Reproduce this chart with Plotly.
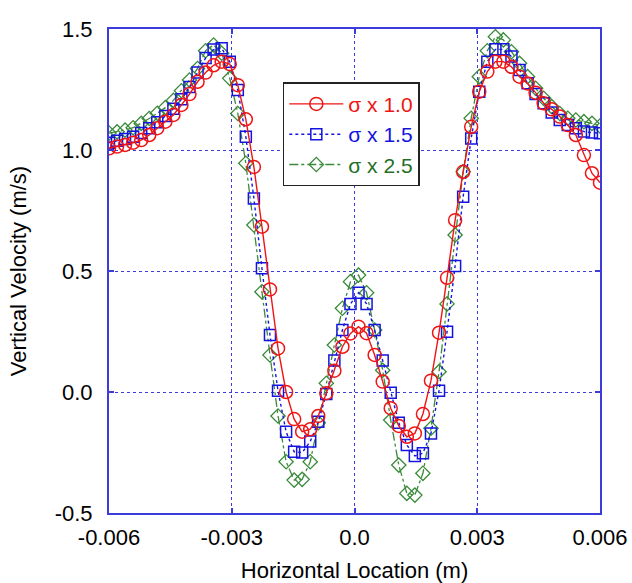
import plotly.graph_objects as go

# Horizontal location (m): 62 sample positions across the channel (-0.006 .. 0.006)
x_loc = [-0.006000, -0.005803, -0.005607, -0.005410, -0.005213, -0.005016, -0.004820, -0.004623,
         -0.004426, -0.004230, -0.004033, -0.003836, -0.003639, -0.003443, -0.003246, -0.003049,
         -0.002852, -0.002656, -0.002459, -0.002262, -0.002066, -0.001869, -0.001672, -0.001475,
         -0.001279, -0.001082, -0.000885, -0.000689, -0.000492, -0.000295, -0.000098,
          0.000098,  0.000295,  0.000492,  0.000689,  0.000885,  0.001082,  0.001279,  0.001475,
          0.001672,  0.001869,  0.002066,  0.002262,  0.002459,  0.002656,  0.002852,  0.003049,
          0.003246,  0.003443,  0.003639,  0.003836,  0.004033,  0.004230,  0.004426,  0.004623,
          0.004820,  0.005016,  0.005213,  0.005410,  0.005607,  0.005803,  0.006000]

# Vertical velocity (m/s)
v_sigma_10 = [1.007, 1.014, 1.021, 1.030, 1.041, 1.062, 1.090, 1.117, 1.145, 1.186,
              1.231, 1.282, 1.320, 1.350, 1.365, 1.355, 1.268, 1.127, 0.930, 0.683,
              0.424, 0.180, 0.000, -0.112, -0.164, -0.154, -0.099, -0.005, 0.088, 0.187,
              0.242,
              0.270, 0.243, 0.153, 0.043, -0.067, -0.140, -0.185, -0.171, -0.091, 0.047,
              0.245, 0.472, 0.710, 0.910, 1.096, 1.241, 1.324, 1.365, 1.365, 1.344,
              1.303, 1.275, 1.237, 1.193, 1.168, 1.138, 1.103, 1.062, 0.979, 0.904,
              0.865]

v_sigma_15 = [1.030, 1.038, 1.045, 1.055, 1.070, 1.090, 1.115, 1.140, 1.170, 1.210,
              1.260, 1.320, 1.380, 1.415, 1.420, 1.365, 1.248, 1.055, 0.800, 0.511,
              0.236, 0.005, -0.164, -0.247, -0.250, -0.205, -0.123, -0.008, 0.130, 0.256,
              0.364,
              0.410, 0.364, 0.256, 0.130, -0.003, -0.127, -0.219, -0.264, -0.253, -0.171,
              0.005, 0.249, 0.521, 0.807, 1.048, 1.241, 1.365, 1.416, 1.416, 1.386,
              1.331, 1.276, 1.231, 1.193, 1.155, 1.124, 1.103, 1.090, 1.076, 1.072,
              1.069]

v_sigma_25 = [1.070, 1.075, 1.082, 1.092, 1.110, 1.130, 1.152, 1.175, 1.205, 1.245,
              1.289, 1.337, 1.410, 1.434, 1.400, 1.296, 1.151, 0.945, 0.690, 0.414,
              0.153, -0.099, -0.288, -0.364, -0.361, -0.288, -0.127, 0.036, 0.194, 0.346,
              0.456,
              0.483, 0.410, 0.256, 0.090, -0.116, -0.302, -0.419, -0.426, -0.336, -0.150,
              0.084, 0.364, 0.649, 0.910, 1.131, 1.303, 1.410, 1.468, 1.455, 1.406,
              1.358, 1.303, 1.255, 1.214, 1.179, 1.151, 1.131, 1.124, 1.117, 1.110,
              1.099]

series_names = ["σ x 1.0", "σ x 1.5", "σ x 2.5"]

x_tick_vals = [-0.006, -0.003, 0.0, 0.003, 0.006]
x_tick_text = ["-0.006", "-0.003", "0.0", "0.003", "0.006"]
y_tick_vals = [-0.5, 0.0, 0.5, 1.0, 1.5]
y_tick_text = ["-0.5", "0.0", "0.5", "1.0", "1.5"]

RED = "#f01414"
BLUE = "#1414e0"
GREEN = "#3a8a3a"
GREEN_TXT = "#1f6f1f"
AXIS_BLUE = "#3c3cdc"
FONT = "Liberation Sans, Arial, sans-serif"

fig = go.Figure()

fig.add_trace(go.Scatter(
    x=x_loc, y=v_sigma_25, mode="lines+markers",
    name=f'<span style="color:{GREEN_TXT}">{series_names[2]}</span>',
    line=dict(color=GREEN, width=1.3, dash="dashdot"),
    marker=dict(symbol="diamond-open", size=11, color=GREEN, line=dict(width=1.3, color=GREEN)),
    legendrank=3,
))
fig.add_trace(go.Scatter(
    x=x_loc, y=v_sigma_15, mode="lines+markers",
    name=f'<span style="color:{BLUE}">{series_names[1]}</span>',
    line=dict(color=BLUE, width=1.4, dash="dot"),
    marker=dict(symbol="square-open", size=11, color=BLUE, line=dict(width=1.5, color=BLUE)),
    legendrank=2,
))
fig.add_trace(go.Scatter(
    x=x_loc, y=v_sigma_10, mode="lines+markers",
    name=f'<span style="color:{RED}">{series_names[0]}</span>',
    line=dict(color=RED, width=1.4),
    marker=dict(symbol="circle-open", size=13, color=RED, line=dict(width=1.5, color=RED)),
    legendrank=1,
))

axis_common = dict(
    showline=True, linecolor=AXIS_BLUE, linewidth=2, mirror="ticks",
    showgrid=True, gridcolor=AXIS_BLUE, gridwidth=1, griddash="dot",
    zeroline=False, ticks="inside", ticklen=5, tickcolor=AXIS_BLUE, tickwidth=1.5,
    tickfont=dict(family=FONT, size=22, color="black"),
    automargin=False,
)

fig.update_xaxes(
    range=[-0.006, 0.006], tickvals=x_tick_vals, ticktext=x_tick_text,
    title=dict(text="Horizontal Location (m)", font=dict(family=FONT, size=22, color="black"), standoff=14),
    ticklabelstandoff=4,
    **axis_common,
)
fig.update_yaxes(
    range=[-0.5, 1.5], tickvals=y_tick_vals, ticktext=y_tick_text,
    title=dict(text="Vertical Velocity (m/s)", font=dict(family=FONT, size=22, color="black"), standoff=22),
    ticklabelstandoff=10,
    **axis_common,
)

fig.update_layout(
    width=632, height=583,
    margin=dict(l=109, r=32, t=29, b=70),
    plot_bgcolor="white", paper_bgcolor="white",
    font=dict(family=FONT, size=22, color="black"),
    legend=dict(
        x=0.354, y=0.89, xanchor="left", yanchor="top",
        bgcolor="white", bordercolor="#222222", borderwidth=1.5,
        font=dict(family=FONT, size=21),
        itemwidth=54, tracegroupgap=0,
    ),
)

fig.write_html(
    "out.html",
    config={"displayModeBar": False},
    post_script="document.body.style.margin='0';document.body.style.overflow='hidden';",
)
